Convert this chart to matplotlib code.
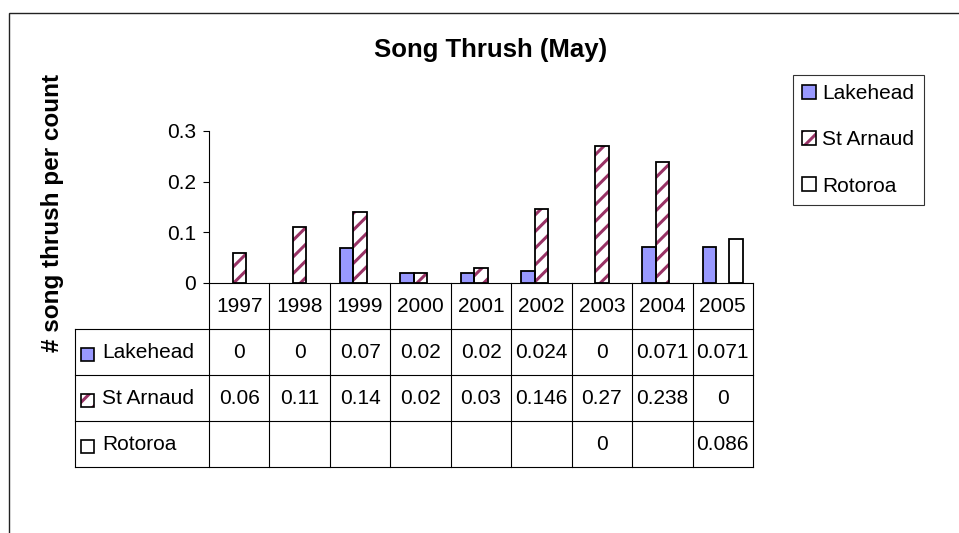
import numpy as np
import matplotlib
matplotlib.use("Agg")
import matplotlib.pyplot as plt
from matplotlib.patches import Rectangle
from matplotlib.legend_handler import HandlerTuple

plt.rcParams["font.family"] = ["Liberation Sans", "DejaVu Sans"]
plt.rcParams["hatch.linewidth"] = 2.2

years = ["1997", "1998", "1999", "2000", "2001", "2002", "2003", "2004", "2005"]
lakehead = [0, 0, 0.07, 0.02, 0.02, 0.024, 0, 0.071, 0.071]
st_arnaud = [0.06, 0.11, 0.14, 0.02, 0.03, 0.146, 0.27, 0.238, 0]
rotoroa = [np.nan, np.nan, np.nan, np.nan, np.nan, np.nan, 0, np.nan, 0.086]
series_names = ["Lakehead", "St Arnaud", "Rotoroa"]

BLUE = "#9999FF"
MAROON = "#993366"
W, H = 959, 533

fig = plt.figure(figsize=(W / 100, H / 100), dpi=100)

# chart area frame (runs off the right and bottom of the image)
fig.add_artist(Rectangle((9 / W, -0.5), 2, 1 - 13 / H + 0.5, transform=fig.transFigure,
                         fill=False, edgecolor="#222222", lw=1.0))

ax = fig.add_axes([209 / W, 1 - 283 / H, (753 - 209) / W, (283 - 131) / H])
x = np.arange(len(years))
w = 1 / 4.5


def heights(vals):
    # zero / missing values draw no bar at all
    v = np.asarray(vals, dtype=float)
    return np.where(v > 0, v, np.nan)


ax.bar(x - w, heights(lakehead), w, color=BLUE, edgecolor="black", lw=1.3, zorder=3)
ax.bar(x, heights(st_arnaud), w, color="white", edgecolor=MAROON, lw=0, hatch="//", zorder=2)
ax.bar(x, heights(st_arnaud), w, fill=False, edgecolor="black", lw=1.3, zorder=3)
ax.bar(x + w, heights(rotoroa), w, color="white", edgecolor="black", lw=1.3, zorder=3)

ax.set_xlim(-0.5, len(years) - 0.5)
ax.set_ylim(0, 0.3)
ax.set_yticks([0, 0.1, 0.2, 0.3])
ax.set_yticklabels(["0", "0.1", "0.2", "0.3"], fontsize=15)
ax.tick_params(axis="y", length=4.5, width=0.8, pad=5)
ax.set_xticks([])
for s in ["top", "right"]:
    ax.spines[s].set_visible(False)
ax.spines["left"].set_linewidth(0.8)
ax.spines["bottom"].set_linewidth(0.8)

fig.text(491 / W, 1 - 50 / H, "Song Thrush (May)", ha="center", va="center",
         fontsize=18.5, fontweight="bold")
fig.text(53 / W, 1 - 213 / H, "# song thrush per count", ha="center", va="center",
         rotation=90, fontsize=17.5, fontweight="bold")

# data table below the plot
tab = fig.add_axes([75 / W, 1 - 467 / H, (753 - 75) / W, (467 - 283) / H])
x0 = -0.5 - (209 - 75) / ((753 - 209) / len(years))
x1 = len(years) - 0.5
tab.set_xlim(x0, x1)
tab.set_ylim(4, 0)
tab.axis("off")
lc = dict(color="black", lw=0.8, clip_on=False)
for r in range(1, 5):
    tab.plot([x0, x1], [r, r], **lc)
tab.plot([x0, x0], [1, 4], **lc)
for i in range(len(years) + 1):
    tab.plot([i - 0.5, i - 0.5], [0, 4], **lc)
for i, yr in enumerate(years):
    tab.text(i, 0.5, yr, ha="center", va="center", fontsize=15)
rows = [lakehead, st_arnaud, rotoroa]
for r, vals in enumerate(rows):
    for i, v in enumerate(vals):
        if not np.isnan(v):
            tab.text(i, r + 1.5, f"{v:g}", ha="center", va="center", fontsize=15)

sq_w, sq_h = 13 / 60.44, 13 / 46
keys = [
    [dict(facecolor=BLUE, edgecolor="black", lw=1.2)],
    [dict(facecolor="white", edgecolor=MAROON, lw=0, hatch="//"),
     dict(fill=False, edgecolor="black", lw=1.2)],
    [dict(facecolor="white", edgecolor="black", lw=1.2)],
]
for r, (name, styles) in enumerate(zip(series_names, keys)):
    for st in styles:
        tab.add_patch(Rectangle((x0 + 0.1, r + 1.55 - sq_h / 2), sq_w, sq_h, **st))
    tab.text(x0 + 0.45, r + 1.5, name, ha="left", va="center", fontsize=15)

# legend
handles = [
    Rectangle((0, 0), 1, 1, facecolor=BLUE, edgecolor="black", lw=1.2),
    (Rectangle((0, 0), 1, 1, facecolor="white", edgecolor=MAROON, lw=0, hatch="//"),
     Rectangle((0, 0), 1, 1, fill=False, edgecolor="black", lw=1.2)),
    Rectangle((0, 0), 1, 1, facecolor="white", edgecolor="black", lw=1.2),
]
leg = fig.legend(handles, series_names, loc="upper left",
                 bbox_to_anchor=(793 / W, 1 - 75 / H), borderaxespad=0,
                 fontsize=15, frameon=True, fancybox=False, edgecolor="black",
                 handlelength=0.65, handleheight=0.65, handletextpad=0.3,
                 labelspacing=1.3, borderpad=0.45,
                 handler_map={tuple: HandlerTuple(ndivide=1, pad=0)})
leg.get_frame().set_linewidth(0.8)

fig.savefig("out.png", dpi=100)
